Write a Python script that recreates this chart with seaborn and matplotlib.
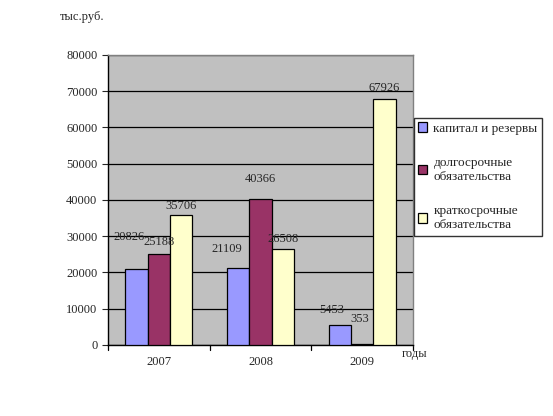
import pandas as pd
import seaborn as sns
import matplotlib.pyplot as plt

years = ['2007', '2008', '2009']
capital = [20826, 21109, 5453]
long_term = [25188, 40366, 353]
short_term = [35706, 26508, 67926]
series_names = ['капитал и резервы', 'долгосрочные\nобязательства', 'краткосрочные\nобязательства']
colors = ['#9999FF', '#993366', '#FFFFCC']

# label nudges (points) to mimic the original Excel placement
label_nudge = [[(-5, 23), (0, 8), (0, 7)],
               [(-8, 14), (0, 14), (0, 7)],
               [(-6, 11), (-2, 18), (0, 8)]]

rows = []
for i, y in enumerate(years):
    rows.append({'year': y, 'series': series_names[0], 'value': capital[i]})
    rows.append({'year': y, 'series': series_names[1], 'value': long_term[i]})
    rows.append({'year': y, 'series': series_names[2], 'value': short_term[i]})
df = pd.DataFrame(rows)

sns.set_style('white')
plt.rcParams['font.family'] = ['Liberation Serif', 'DejaVu Serif']
fs = 9

fig = plt.figure(figsize=(5.53, 4.16), dpi=100)
ax = fig.add_axes([0.195, 0.171, 0.552, 0.697])
ax.set_facecolor('#C0C0C0')

sns.barplot(data=df, x='year', y='value', hue='series', palette=colors,
            saturation=1, edgecolor='black', linewidth=0.9, width=0.66,
            ax=ax, zorder=3)

for k, cont in enumerate(ax.containers):
    for i, bar in enumerate(cont):
        v = bar.get_height()
        dx, dy = label_nudge[i][k]
        ax.annotate(str(int(v)), (bar.get_x() + bar.get_width() / 2, v),
                    xytext=(dx, dy), textcoords='offset points',
                    ha='center', va='center', fontsize=fs, zorder=5)

ax.set_ylim(0, 80000)
ax.set_xlim(-0.5, 2.5)
ax.set_yticks(range(0, 80001, 10000))
ax.set_yticklabels([str(t) for t in range(0, 80001, 10000)], fontsize=fs)
ax.yaxis.grid(True, color='black', linewidth=0.9, zorder=0)
ax.set_axisbelow(True)
ax.tick_params(axis='y', length=4, direction='out', left=True)
ax.tick_params(axis='x', length=0, labelsize=fs, pad=8)
for x in [-0.5, 0.5, 1.5, 2.5]:
    ax.plot([x, x], [0, -0.017], transform=ax.get_xaxis_transform(),
            color='black', linewidth=0.9, clip_on=False)
for side in ['left', 'bottom']:
    ax.spines[side].set_color('black')
    ax.spines[side].set_linewidth(1)
for side in ['top', 'right']:
    ax.spines[side].set_color('#808080')
    ax.spines[side].set_linewidth(1)
ax.set_xlabel('')
ax.set_ylabel('')

fig.text(0.108, 0.958, 'тыс.руб.', fontsize=fs, ha='left', va='center')
fig.text(0.727, 0.149, 'годы', fontsize=fs, ha='left', va='center')

handles, labels = ax.get_legend_handles_labels()
ax.get_legend().remove()
fig.legend(handles, labels, loc='upper left', bbox_to_anchor=(0.748, 0.717),
           frameon=True, fancybox=False, edgecolor='black', fontsize=9.5,
           handlelength=0.7, handleheight=0.7, handletextpad=0.45,
           labelspacing=1.7, borderpad=0.35, borderaxespad=0)

fig.savefig('out.png', dpi=100)
